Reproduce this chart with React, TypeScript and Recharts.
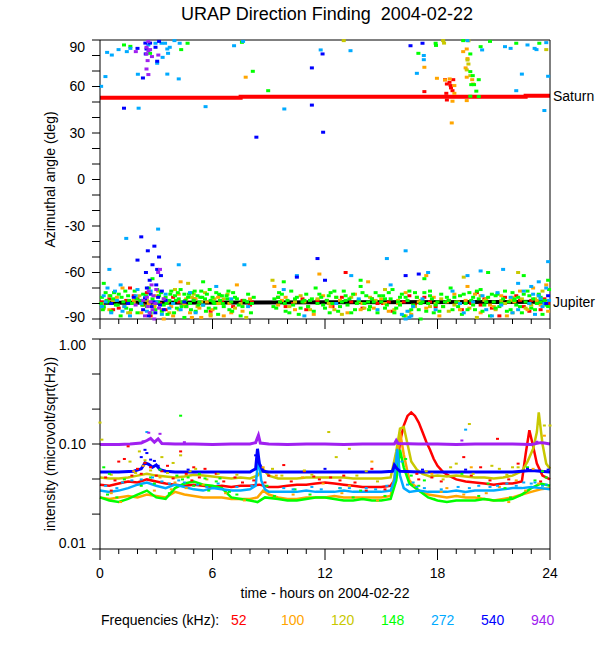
import { ComposedChart, Scatter, Line, XAxis, YAxis, LabelList } from "recharts";

type Pair = [number, number];

const FREQS = ["52", "100", "120", "148", "272", "540", "940"];
const COLORS = ["#ff0000", "#ffa500", "#c8c800", "#00ff00", "#00aaff", "#0000ff", "#a020f0"];

const HOURS = [0, 1, 2, 3, 4, 5, 6, 7, 8, 9, 10, 11, 12, 13, 14, 15, 16, 17, 18, 19, 20, 21, 22, 23, 24];
const AZ_TICKS = [-90, -80, -70, -60, -50, -40, -30, -20, -10, 0, 10, 20, 30, 40, 50, 60, 70, 80, 90];
const INT_TICKS = [0.01, 0.0215, 0.0464, 0.1, 0.215, 0.464, 1];

// Source directions (deg) — Saturn steps, Jupiter nearly flat
const SATURN: Pair[] = [[0, 52.7], [7.5, 53.4], [22.7, 54], [24, 54]];
const JUPITER: Pair[] = [[0, -79.5], [12, -79.2], [24, -78.9]];

// ---- azimuth scatter, [hour, deg] per frequency ----
const AZ_52: Pair[] = [
  [18.4, 64.4], [18.64, 62.7], [18.7, 60.6], [18.5, 61.6], [18.84, 64.4], [18.72, 59.1], [18.8, 57.3], [18.47, 55.6], [18.55, 53.5], [18.5, 51.3], [17.3, 56.7],
  [0.1, -79], [0.5, -77], [1.0, -83], [1.4, -78], [1.8, -75], [2.3, -81], [2.7, -88], [3.2, -80], [3.9, -76], [4.6, -82], [5.3, -80], [5.9, -85],
  [6.5, -79], [7.1, -82], [7.6, -78], [8.1, -79], [9.5, -76], [10.3, -80], [11.0, -84], [11.6, -78], [12.4, -82], [12.9, -76], [13.4, -79], [14.0, -83],
  [14.5, -77], [15.1, -80], [15.6, -85], [16.2, -79], [16.8, -81], [17.3, -76], [17.9, -82], [18.6, -78], [19.3, -84], [19.8, -80], [20.5, -77], [20.9, -83],
  [21.3, -88], [21.8, -79], [22.2, -75], [22.6, -82], [23.0, -78], [23.5, -84], [23.9, -80], [13.1, -60], [6.4, -75], [15.4, -79], [20.1, -73],
  [0.7, -84], [2.0, -77], [4.2, -79], [9.9, -82], [12.1, -78], [16.5, -75], [19.0, -79], [21.6, -76], [22.9, -85], [23.7, -77], [1.6, -70], [2.5, -73],
  [3.5, -84], [5.0, -77], [8.0, -81], [10.8, -77], [14.8, -80], [17.6, -79], [20.3, -81], [22.4, -78], [23.3, -80],
];
const AZ_100: Pair[] = [
  [7.77, 66], [17.3, 72.4], [17.97, 65.3], [18.4, 64.2], [18.65, 64.9], [18.9, 60.6], [18.9, 55.6], [18.76, 36.5], [19.37, 82.5], [19.56, 84.2], [19.56, 66],
  [19.85, 64.4], [19.56, 50.9], [19.9, 61.6], [18.8, 50.5], [19.6, 78], [19.5, 72],
  [0.1, -80], [0.5, -84], [0.9, -76], [1.3, -82], [1.8, -78], [2.2, -86], [2.6, -80], [3.0, -75], [3.3, -84], [3.6, -79], [3.9, -88], [4.2, -74],
  [4.5, -81], [4.8, -86], [5.1, -77], [5.4, -89], [5.7, -79], [6.0, -84], [6.3, -76], [6.6, -88], [6.9, -80], [7.3, -68], [7.6, -85], [8.0, -77],
  [9.3, -69], [9.5, -81], [9.9, -76], [10.4, -84], [10.9, -79], [11.4, -87], [11.9, -75], [12.3, -82], [12.8, -78], [13.2, -86], [13.6, -74], [14.0, -80],
  [14.3, -66], [14.6, -83], [15.0, -77], [15.4, -85], [15.9, -80], [16.3, -73], [16.6, -87], [17.0, -79], [17.4, -83], [17.8, -76], [18.1, -88], [18.5, -79],
  [18.9, -74], [19.2, -84], [19.6, -69], [19.9, -80], [20.3, -86], [20.6, -77], [21.0, -82], [21.4, -75], [21.7, -88], [22.1, -79], [22.4, -72], [22.8, -84],
  [23.1, -70], [23.5, -81], [23.8, -68], [1.2, -70], [4.3, -66], [11.7, -61], [17.4, -62], [3.4, -90], [4.9, -89], [5.9, -88], [2.9, -82], [20.0, -74],
  [0.7, -78], [1.6, -86], [3.8, -82], [4.6, -77], [5.3, -83], [6.2, -80], [7.0, -86], [9.7, -78], [11.1, -82], [12.6, -76], [13.9, -84], [15.2, -80],
  [16.9, -76], [18.3, -82], [19.5, -78], [20.8, -81], [22.0, -76], [23.3, -78], [23.9, -85],
];
const AZ_120: Pair[] = [
  [13, 89.6], [18.3, 89.6], [19.6, 77.1], [19.65, 74.5], [19.56, 70.7], [19.75, 67], [23.8, 83.8], [19.65, 89.5], [18.35, 88],
  [0.2, -83], [0.8, -78], [1.5, -86], [2.1, -75], [2.9, -81], [3.4, -77], [3.7, -86], [4.0, -71], [4.4, -79], [4.9, -76], [5.2, -82], [5.6, -73],
  [5.9, -87], [6.4, -80], [6.8, -74], [7.2, -83], [7.8, -89], [9.2, -65], [10.1, -82], [10.7, -75], [11.2, -84], [12.2, -80], [12.9, -87], [13.4, -76],
  [14.1, -83], [14.7, -78], [15.2, -71], [15.7, -84], [16.0, -80], [16.3, -88], [16.5, -85], [17.1, -78], [17.6, -82], [18.2, -77], [18.6, -85], [19.1, -79],
  [19.7, -83], [20.1, -89], [20.5, -78], [21.1, -84], [21.6, -80], [22.0, -86], [22.5, -77], [23.0, -81], [23.4, -75], [23.8, -79], [4.7, -67], [19.4, -63],
  [22.3, -60], [3.1, -72], [5.0, -74], [6.1, -77], [13.8, -79], [17.9, -80], [21.9, -78], [23.6, -72],
  [0.5, -75], [1.8, -80], [2.5, -78], [4.2, -84], [5.4, -79], [6.6, -77], [7.5, -80], [10.4, -79], [11.6, -77], [12.5, -84], [14.4, -76], [15.9, -78],
  [16.8, -82], [18.9, -81], [20.3, -75], [21.4, -78], [22.7, -83], [23.2, -77],
];
const AZ_148: Pair[] = [
  [1.28, 86.8], [1.62, 85.9], [2.67, 81.4], [4.33, 83.8], [4.67, 87.9], [7.57, 88.5], [8.15, 69.8], [8.97, 57.3], [16.98, 81.4], [17.9, 87.9], [17.92, 86.5],
  [19.37, 89.6], [19.75, 81], [19.75, 69.6], [19.88, 67], [20.07, 57], [19.75, 53.7], [20.2, 53.5], [20.3, 85.7], [20.8, 89.1], [22.2, 87.9], [23.43, 87.9],
  [20.2, 64.4], [19.8, 61.2], [19.95, 61.2],
  [0.1, -76], [0.2, -82], [0.3, -73], [0.45, -79], [0.6, -85], [0.7, -77], [0.85, -81], [1.0, -74], [1.1, -88], [1.25, -79], [1.4, -83], [1.5, -75],
  [1.7, -80], [1.85, -72], [2.0, -86], [2.15, -78], [2.3, -74], [2.5, -82], [2.6, -70], [2.8, -77], [2.95, -84], [3.1, -79], [3.25, -73], [3.4, -81],
  [3.5, -76], [3.6, -87], [3.7, -78], [3.8, -72], [3.9, -80], [4.0, -75], [4.1, -83], [4.2, -77], [4.3, -71], [4.4, -79], [4.5, -74], [4.6, -82],
  [4.7, -76], [4.8, -80], [4.9, -73], [5.0, -78], [5.1, -85], [5.2, -75], [5.3, -79], [5.4, -72], [5.5, -81], [5.6, -77], [5.7, -74], [5.8, -83],
  [5.9, -78], [6.0, -76], [6.1, -80], [6.2, -73], [6.3, -87], [6.4, -78], [6.5, -75], [6.6, -82], [6.8, -77], [6.9, -84], [7.0, -79], [7.2, -76],
  [7.4, -81], [7.5, -88], [7.7, -78], [7.9, -74], [8.1, -80], [9.3, -77], [9.4, -83], [9.6, -79], [9.7, -74], [9.9, -85], [10.0, -78], [10.2, -72],
  [10.3, -81], [10.5, -76], [10.6, -87], [10.8, -79], [11.0, -74], [11.1, -82], [11.3, -77], [11.5, -70], [11.6, -80], [11.8, -76], [12.0, -83], [12.1, -78],
  [12.3, -73], [12.4, -80], [12.6, -76], [12.7, -85], [12.9, -79], [13.0, -72], [13.2, -81], [13.3, -77], [13.5, -74], [13.6, -84], [13.8, -78], [13.9, -69],
  [14.1, -80], [14.2, -75], [14.4, -82], [14.5, -77], [14.7, -73], [14.8, -86], [15.0, -79], [15.1, -75], [15.3, -81], [15.5, -77], [15.6, -71], [15.8, -83],
  [15.9, -79], [16.1, -74], [16.2, -88], [16.4, -78], [16.5, -72], [16.7, -81], [16.9, -76], [17.0, -84], [17.2, -79], [17.3, -73], [17.5, -80], [17.7, -77],
  [17.8, -86], [18.0, -79], [18.2, -74], [18.3, -82], [18.5, -76], [18.7, -70], [18.8, -84], [19.0, -79], [19.2, -75], [19.3, -87], [19.5, -80], [19.7, -73],
  [19.8, -78], [20.0, -84], [20.2, -77], [20.3, -71], [20.5, -81], [20.7, -76], [20.8, -88], [21.0, -79], [21.2, -74], [21.3, -82], [21.5, -77], [21.7, -85],
  [21.8, -79], [22.0, -73], [22.2, -81], [22.3, -76], [22.5, -86], [22.7, -79], [22.8, -72], [23.0, -83], [23.1, -77], [23.3, -80], [23.4, -74], [23.6, -87],
  [23.7, -78], [23.9, -82], [23.95, -71], [0.2, -67], [5.5, -66], [9.8, -66], [13.9, -65], [17.3, -64], [20.7, -60], [22.6, -62], [23.9, -65], [2.8, -64],
  [17.1, -90], [4.5, -89], [0.05, -80], [0.55, -75], [1.55, -78], [3.15, -75], [4.05, -78], [4.75, -74], [5.35, -76], [6.05, -79], [6.75, -75], [7.1, -73],
  [9.5, -76], [10.9, -78], [12.2, -75], [13.1, -78], [14.3, -79], [15.2, -77], [16.0, -76], [17.6, -75], [18.6, -78], [19.9, -76], [21.1, -75], [22.1, -77],
  [22.9, -75], [23.5, -79],
  [0.15, -84], [0.35, -78], [0.75, -73], [0.95, -81], [1.15, -76], [1.35, -72], [1.65, -84], [1.95, -77], [2.25, -81], [2.45, -75], [2.7, -86], [3.05, -71],
  [3.3, -85], [3.55, -80], [3.75, -74], [3.95, -86], [4.15, -73], [4.35, -82], [4.55, -78], [4.85, -84], [5.05, -72], [5.25, -81], [5.45, -76], [5.65, -85],
  [5.85, -71], [6.15, -83], [6.35, -74], [6.55, -80], [6.85, -72], [7.05, -85], [7.3, -77], [7.6, -82], [7.85, -79], [8.05, -86], [8.2, -76], [9.25, -82],
  [9.55, -73], [9.85, -80], [10.1, -86], [10.4, -77], [10.7, -83], [11.2, -78], [11.4, -85], [11.7, -74], [11.9, -81], [12.25, -86], [12.5, -72], [12.8, -82],
  [13.1, -75], [13.4, -86], [13.7, -80], [14.0, -73], [14.35, -84], [14.6, -79], [14.9, -75], [15.2, -83], [15.4, -73], [15.7, -86], [16.0, -81], [16.3, -76],
  [16.6, -84], [16.8, -73], [17.1, -80], [17.4, -85], [17.6, -72], [17.9, -81], [18.1, -85], [18.4, -79], [18.9, -76], [19.1, -82], [19.4, -74], [19.6, -84],
  [19.9, -81], [20.1, -72], [20.4, -85], [20.6, -79], [20.9, -74], [21.1, -83], [21.4, -80], [21.6, -72], [21.9, -84], [22.1, -78], [22.4, -82], [22.6, -74],
  [22.9, -80], [23.2, -84], [23.5, -76], [23.8, -81],
];
const AZ_272: Pair[] = [
  [0.38, 82], [0.63, 80.3], [0.99, 83.8], [1.43, 82.5], [1.62, 84.6], [0.29, 66.4], [2.06, 46], [2.02, 67.9], [2.58, 86.8], [2.96, 87.9], [3.28, 87.9],
  [3.47, 87.9], [3.59, 84.2], [3.72, 85.3], [3.63, 81.4], [3.34, 78.8], [3.05, 75], [3.59, 68], [4.2, 64.9], [3.97, 89.6], [4.25, 87.9], [7.15, 86.3],
  [7.63, 89.1], [5.63, 47], [9.83, 45.5], [11.77, 83.6], [13.36, 83.1], [16.9, 68.5], [17.27, 80], [17.27, 77.3], [20.38, 83.6], [21.6, 85.7], [21.9, 84.6],
  [22.8, 86.8], [23.18, 84.6], [23.28, 83.8], [23.8, 88.3], [23.7, 44.5], [22.2, 57.3], [22.5, 68], [23.9, 66.6], [0.06, 60.1], [19.6, 89.6],
  [0.1, -82], [0.2, -75], [0.4, -70], [0.6, -86], [0.9, -78], [1.1, -68], [1.3, -82], [1.6, -88], [1.9, -75], [2.2, -80], [2.5, -85], [2.7, -72],
  [3.0, -79], [3.3, -87], [3.5, -74], [3.9, -80], [4.3, -84], [4.8, -73], [5.5, -81], [6.2, -69], [7.0, -77], [7.9, -82], [9.8, -71], [10.9, -88],
  [12.6, -80], [13.8, -77], [14.8, -84], [15.5, -68], [16.1, -87], [16.3, -90], [16.5, -89], [16.7, -82], [17.2, -77], [17.9, -84], [18.8, -72], [19.4, -86],
  [19.9, -79], [20.4, -75], [20.9, -88], [21.4, -81], [21.9, -76], [22.3, -84], [22.6, -72], [22.9, -80], [23.2, -87], [23.4, -75], [23.6, -82], [23.8, -70],
  [23.95, -78], [0.5, -58], [1.4, -38], [3.1, -32], [4.2, -55], [7.7, -55], [10.5, -62], [16.3, -46], [17.5, -60], [19.6, -62], [21.5, -58], [23.9, -53],
  [15.3, -51], [13.4, -62], [20.3, -59], [22.3, -67], [23.4, -66], [0.8, -72], [2.4, -76], [23.0, -69], [23.5, -77],
  [0.3, -79], [1.2, -85], [2.0, -71], [3.7, -83], [5.1, -86], [16.4, -85], [16.6, -88], [19.2, -80], [20.6, -84], [21.2, -73], [22.0, -86], [23.1, -74],
  [23.7, -80],
];
const AZ_540: Pair[] = [
  [2.0, 84.6], [2.29, 65.5], [2.42, 88], [2.48, 84.2], [2.67, 88], [2.96, 85.3], [3.15, 89.1], [3.05, 76.3], [2.44, 81], [11.3, 72], [11.87, 81],
  [11.3, 48], [11.9, 30.5], [8.34, 27.3], [16.56, 86.3], [17.2, 87.9], [1.28, 46],
  [1.5, -80], [2.0, -52], [2.2, -37], [2.3, -84], [2.4, -77], [2.45, -60], [2.5, -70], [2.55, -46], [2.6, -88], [2.65, -65], [2.7, -74], [2.75, -82],
  [2.8, -55], [2.85, -79], [2.9, -43], [2.95, -86], [3.0, -68], [3.05, -58], [3.1, -76], [3.15, -50], [3.2, -81], [3.25, -62], [3.3, -72], [3.4, -84],
  [3.5, -78], [1.8, -76], [0.6, -80], [11.6, -51], [10.5, -63], [4.5, -79], [16.3, -62], [23.8, -80], [23.9, -75], [17.0, -61], [12.0, -65],
];
const AZ_940: Pair[] = [
  [2.58, 89.1], [2.58, 83.1], [2.48, 81], [2.54, 76.7], [2.48, 71.3], [2.58, 67.7], [2.77, 79.3], [3.11, 80.3], [1.91, 82.5], [2.67, 83.8], [2.48, 85.3],
  [2.4, -88], [2.5, -76], [2.55, -82], [2.6, -72], [2.65, -86], [2.7, -79], [2.75, -68], [2.8, -84], [2.85, -75], [2.9, -90], [2.95, -80], [3.0, -71],
  [3.1, -60], [3.15, -83], [3.2, -58], [2.3, -78], [1.9, -81], [3.4, -77],
];
const AZ_SERIES = [AZ_52, AZ_100, AZ_120, AZ_148, AZ_272, AZ_540, AZ_940];

// ---- intensity traces (microvolt/sqrt(Hz)), [hour, value] ----
const INT_52: Pair[] = [
  [0, 0.041], [0.5, 0.040], [1, 0.042], [1.5, 0.044], [2, 0.043], [2.5, 0.046], [3, 0.044], [3.5, 0.042], [4, 0.041], [4.5, 0.040], [5, 0.041],
  [5.5, 0.040], [6, 0.039], [6.5, 0.040], [7, 0.039], [7.5, 0.040], [8, 0.040], [8.5, 0.041], [9, 0.039], [9.5, 0.039], [10, 0.040], [10.5, 0.041],
  [11, 0.041], [11.5, 0.042], [12, 0.043], [12.5, 0.042], [13, 0.041], [13.5, 0.040], [14, 0.039], [14.5, 0.039], [15, 0.039], [15.5, 0.040],
  [15.8, 0.048], [16.0, 0.105], [16.2, 0.150], [16.4, 0.185], [16.6, 0.200], [16.8, 0.185], [17.0, 0.160], [17.2, 0.130], [17.4, 0.105], [17.6, 0.088],
  [17.8, 0.072], [18.0, 0.062], [18.3, 0.054], [18.6, 0.050], [19, 0.046], [19.5, 0.044], [20, 0.043], [20.5, 0.042], [21, 0.041], [21.5, 0.042],
  [22, 0.042], [22.5, 0.044], [22.7, 0.080], [22.9, 0.135], [23.1, 0.095], [23.3, 0.065], [23.6, 0.050], [24, 0.046],
];
const INT_100: Pair[] = [
  [0, 0.031], [0.5, 0.030], [1, 0.031], [1.5, 0.032], [2, 0.031], [2.5, 0.033], [3, 0.032], [3.5, 0.031], [4, 0.035], [4.5, 0.033], [5, 0.032],
  [5.5, 0.031], [6, 0.031], [6.5, 0.031], [7, 0.030], [7.5, 0.030], [8, 0.030], [8.4, 0.031], [8.7, 0.036], [9, 0.033], [9.5, 0.031], [10, 0.030],
  [10.5, 0.030], [11, 0.031], [11.5, 0.031], [12, 0.031], [12.5, 0.032], [13, 0.031], [13.5, 0.031], [14, 0.031], [14.5, 0.031], [15, 0.031],
  [15.5, 0.032], [15.8, 0.060], [16.0, 0.130], [16.2, 0.080], [16.5, 0.045], [17, 0.036], [17.5, 0.033], [18, 0.032], [18.5, 0.031], [19, 0.032],
  [19.5, 0.031], [20, 0.031], [20.5, 0.030], [21, 0.029], [21.5, 0.030], [22, 0.031], [22.5, 0.033], [23, 0.035], [23.5, 0.037], [24, 0.038],
];
const INT_120: Pair[] = [
  [0, 0.048], [0.5, 0.047], [1, 0.047], [1.5, 0.048], [2, 0.050], [2.5, 0.052], [3, 0.050], [3.5, 0.049], [4, 0.048], [4.5, 0.049], [5, 0.051],
  [5.5, 0.050], [6, 0.049], [6.5, 0.048], [7, 0.047], [7.5, 0.048], [8, 0.047], [8.4, 0.050], [8.7, 0.058], [9, 0.050], [9.5, 0.047], [10, 0.047],
  [10.5, 0.047], [11, 0.048], [11.5, 0.048], [12, 0.048], [12.5, 0.048], [13, 0.048], [13.5, 0.047], [14, 0.047], [14.5, 0.047], [15, 0.047],
  [15.5, 0.048], [15.8, 0.085], [16.0, 0.140], [16.2, 0.145], [16.4, 0.100], [16.6, 0.068], [16.9, 0.057], [17.2, 0.052], [17.6, 0.049], [18, 0.050],
  [18.5, 0.049], [19, 0.050], [19.5, 0.049], [20, 0.048], [20.5, 0.048], [21, 0.047], [21.5, 0.048], [22, 0.050], [22.5, 0.055], [22.8, 0.068],
  [23.1, 0.090], [23.3, 0.130], [23.4, 0.200], [23.6, 0.100], [23.8, 0.065], [24, 0.058],
];
const INT_148: Pair[] = [
  [0, 0.031], [0.5, 0.029], [1, 0.028], [1.5, 0.030], [2, 0.033], [2.5, 0.036], [3, 0.031], [3.5, 0.030], [4, 0.038], [4.5, 0.042], [5, 0.044],
  [5.5, 0.041], [6, 0.040], [6.5, 0.038], [7, 0.031], [7.5, 0.030], [8, 0.029], [8.4, 0.028], [8.8, 0.031], [9.5, 0.030], [10, 0.029], [10.5, 0.029],
  [11, 0.030], [11.5, 0.031], [12, 0.031], [12.5, 0.030], [13, 0.029], [13.5, 0.029], [14, 0.030], [14.5, 0.029], [15, 0.029], [15.5, 0.030],
  [15.8, 0.045], [16.0, 0.088], [16.2, 0.060], [16.5, 0.042], [17, 0.036], [17.5, 0.031], [18, 0.029], [18.5, 0.028], [19, 0.029], [19.5, 0.029],
  [20, 0.029], [20.5, 0.030], [21, 0.029], [21.5, 0.029], [22, 0.030], [22.5, 0.033], [23, 0.038], [23.5, 0.042], [24, 0.040],
];
const INT_272: Pair[] = [
  [0, 0.036], [0.5, 0.035], [1, 0.036], [1.5, 0.038], [2, 0.041], [2.5, 0.043], [3, 0.040], [3.5, 0.038], [4, 0.041], [4.5, 0.039], [5, 0.037],
  [5.5, 0.036], [6, 0.038], [6.5, 0.037], [7, 0.036], [7.5, 0.036], [8, 0.037], [8.3, 0.040], [8.45, 0.075], [8.6, 0.045], [8.8, 0.037], [9, 0.035],
  [9.5, 0.035], [10, 0.035], [10.5, 0.035], [11, 0.036], [11.5, 0.035], [12, 0.035], [12.5, 0.035], [13, 0.036], [13.5, 0.035], [14, 0.035],
  [14.5, 0.035], [15, 0.035], [15.5, 0.036], [15.7, 0.045], [15.85, 0.090], [16, 0.050], [16.2, 0.038], [16.5, 0.035], [17, 0.036], [17.5, 0.035],
  [18, 0.035], [18.5, 0.035], [19, 0.036], [19.5, 0.035], [20, 0.036], [20.5, 0.036], [21, 0.036], [21.5, 0.037], [22, 0.038], [22.5, 0.038],
  [23, 0.039], [23.5, 0.038], [24, 0.037],
];
const INT_540: Pair[] = [
  [0, 0.054], [1, 0.054], [1.8, 0.055], [2.2, 0.058], [2.4, 0.066], [2.6, 0.064], [2.8, 0.060], [3.0, 0.063], [3.2, 0.057], [3.5, 0.055], [4, 0.054],
  [5, 0.054], [6, 0.054], [7, 0.054], [8.0, 0.054], [8.3, 0.058], [8.4, 0.090], [8.5, 0.065], [8.7, 0.055], [9, 0.054], [10, 0.054], [11, 0.054],
  [12, 0.054], [13, 0.054], [14, 0.054], [15, 0.054], [15.6, 0.055], [15.7, 0.063], [15.85, 0.058], [16, 0.055], [17, 0.054], [18, 0.054],
  [19, 0.054], [20, 0.054], [21, 0.054], [22, 0.054], [22.5, 0.055], [23, 0.056], [23.5, 0.055], [24, 0.054],
];
const INT_940: Pair[] = [
  [0, 0.099], [1, 0.099], [1.6, 0.100], [2.2, 0.102], [2.5, 0.108], [2.7, 0.113], [2.9, 0.104], [3.1, 0.112], [3.3, 0.101], [4, 0.100], [5, 0.100],
  [6, 0.099], [7, 0.100], [8, 0.100], [8.3, 0.103], [8.45, 0.121], [8.55, 0.102], [9, 0.100], [10, 0.099], [11, 0.100], [12, 0.100], [13, 0.099],
  [14, 0.100], [15, 0.100], [15.7, 0.100], [15.8, 0.108], [15.9, 0.101], [17, 0.100], [18, 0.100], [19, 0.099], [20, 0.100], [21, 0.100],
  [22, 0.100], [23, 0.099], [23.5, 0.103], [23.7, 0.102], [24, 0.100],
];
const INT_SERIES = [INT_52, INT_100, INT_120, INT_148, INT_272, INT_540, INT_940];

// scattered samples off the main traces
const DOT_52: Pair[] = [
  [1.0, 0.068], [1.3, 0.072], [1.5, 0.095], [2.0, 0.058], [2.7, 0.060], [3.6, 0.062], [4.3, 0.085], [5.0, 0.060], [5.6, 0.058], [6.2, 0.052],
  [7.2, 0.048], [9.0, 0.050], [9.8, 0.063], [10.9, 0.055], [11.4, 0.049], [13.0, 0.050], [14.5, 0.058], [19.4, 0.075], [20.3, 0.060], [21.2, 0.112],
  [22.3, 0.065], [0.8, 0.045], [8.2, 0.045], [16.9, 0.052], [18.2, 0.044], [17.7, 0.048],
  [0.3, 0.048], [0.6, 0.036], [1.7, 0.050], [2.2, 0.052], [2.4, 0.066], [3.0, 0.050], [3.3, 0.055], [3.9, 0.047], [4.6, 0.052], [4.9, 0.045],
  [5.3, 0.048], [6.6, 0.044], [7.6, 0.043], [8.8, 0.043], [10.2, 0.044], [11.7, 0.046], [12.3, 0.048], [12.8, 0.045], [13.6, 0.043], [14.2, 0.036],
  [15.2, 0.037], [19.8, 0.050], [20.8, 0.045], [21.8, 0.046], [23.5, 0.044], [17.0, 0.046],
];
const DOT_100: Pair[] = [
  [1.8, 0.055], [2.3, 0.062], [3.2, 0.048], [4.0, 0.043], [5.5, 0.041], [9.4, 0.050], [10.8, 0.048], [11.9, 0.042], [13.3, 0.040], [14.5, 0.068],
  [17.7, 0.052], [18.5, 0.038], [19.8, 0.060], [21.3, 0.039], [22.2, 0.045], [23.1, 0.058], [23.7, 0.120], [8.7, 0.060],
  [0.6, 0.034], [1.1, 0.028], [2.9, 0.036], [3.8, 0.037], [4.6, 0.038], [6.7, 0.034], [7.7, 0.029], [10.3, 0.033], [12.9, 0.034], [14.8, 0.029],
  [16.8, 0.040], [18.2, 0.035], [19.4, 0.033], [20.6, 0.034], [21.8, 0.028], [22.7, 0.036], [23.4, 0.042],
];
const DOT_120: Pair[] = [
  [0, 0.160], [0.1, 0.110], [1.6, 0.068], [2.1, 0.085], [2.4, 0.070], [3.3, 0.075], [3.9, 0.066], [4.3, 0.078], [5.1, 0.058], [6.3, 0.052],
  [9.2, 0.058], [12.2, 0.130], [12.6, 0.075], [13.3, 0.090], [14.2, 0.055], [18.7, 0.060], [19.0, 0.065], [19.7, 0.155], [20.9, 0.062], [21.3, 0.058],
  [22.0, 0.060], [23.7, 0.150], [24, 0.150], [10.9, 0.056],
  [0.6, 0.051], [1.9, 0.053], [2.7, 0.056], [3.6, 0.053], [4.8, 0.055], [5.7, 0.046], [7.3, 0.051], [9.7, 0.050], [11.3, 0.051], [13.7, 0.050],
  [14.8, 0.044], [17.4, 0.055], [18.3, 0.046], [19.9, 0.052], [21.7, 0.051], [22.3, 0.060],
];
const DOT_148: Pair[] = [
  [0.2, 0.060], [0.5, 0.052], [2.7, 0.048], [3.2, 0.057], [4.1, 0.050], [4.7, 0.048], [5.3, 0.052], [6.4, 0.047], [8.9, 0.040], [10.4, 0.037],
  [12.8, 0.038], [13.9, 0.036], [16.3, 0.072], [16.6, 0.050], [17.3, 0.045], [19.3, 0.052], [20.7, 0.042], [21.6, 0.038], [22.8, 0.060], [23.6, 0.055],
  [4.3, 0.186], [1.3, 0.046], [5.8, 0.036],
  [0.4, 0.033], [0.9, 0.031], [2.2, 0.040], [2.9, 0.042], [3.7, 0.034], [4.4, 0.046], [5.0, 0.040], [5.6, 0.047], [6.2, 0.044], [6.9, 0.035],
  [7.3, 0.033], [9.3, 0.032], [11.2, 0.033], [13.5, 0.031], [15.2, 0.032], [17.8, 0.030], [20.2, 0.032], [21.9, 0.031], [23.2, 0.045], [23.8, 0.048],
  [17.0, 0.040],
];
const DOT_272: Pair[] = [
  [0.3, 0.040], [1.2, 0.043], [2.2, 0.046], [2.5, 0.130], [2.8, 0.048], [3.3, 0.044], [4.2, 0.045], [5.2, 0.041], [6.3, 0.042], [9.8, 0.038],
  [11.3, 0.039], [12.8, 0.038], [14.2, 0.038], [15.3, 0.040], [16.4, 0.041], [16.7, 0.043], [17.3, 0.038], [19.1, 0.039], [20.2, 0.040], [21.7, 0.042],
  [22.6, 0.043], [23.2, 0.043], [23.8, 0.041], [19.5, 0.137],
  [0.9, 0.038], [1.7, 0.045], [3.7, 0.042], [4.5, 0.043], [5.7, 0.039], [7.3, 0.039], [8.1, 0.040], [10.3, 0.037], [11.8, 0.037], [13.3, 0.038],
  [14.7, 0.037], [16.1, 0.068], [16.9, 0.039], [18.2, 0.037], [19.7, 0.038], [20.8, 0.039], [21.2, 0.040], [22.2, 0.040], [23.0, 0.042], [23.6, 0.040],
];
const DOT_540: Pair[] = [
  [2.2, 0.075], [2.4, 0.088], [2.5, 0.082], [2.7, 0.071], [2.9, 0.069], [3.1, 0.062], [8.3, 0.078], [4.7, 0.057], [12, 0.058], [17.2, 0.057],
  [19.5, 0.057], [22.8, 0.058], [23.9, 0.057],
];
const DOT_940: Pair[] = [[2.6, 0.128], [3.2, 0.125], [2.3, 0.106], [4.5, 0.104], [19.3, 0.108], [23.3, 0.105]];
const DOT_SERIES = [DOT_52, DOT_100, DOT_120, DOT_148, DOT_272, DOT_540, DOT_940];

const FONT = "'Liberation Sans', Arial, Helvetica, sans-serif";
const toPts = (arr: Pair[]) => arr.map(([t, v]) => ({ t, v }));
const frame = { stroke: "#000", strokeWidth: 1 };

const dash = (color: string, w: number, h: number) => (p: any) =>
  <rect x={p.cx - w / 2} y={p.cy - h / 2} width={w} height={h} fill={color} />;

function HourTick({ x, y, payload, dir, long, short, label }: any) {
  const major = payload.value % 6 === 0;
  const len = major ? long : short;
  return (
    <g>
      <line x1={x} x2={x} y1={y} y2={y + dir * len} stroke="#000" />
      {label && major && (
        <text x={x} y={y + 24} dy="0.35em" textAnchor="middle" fontSize={14} fontFamily={FONT} fill="#000">{payload.value}</text>
      )}
    </g>
  );
}

function AzTick({ x, y, payload, side }: any) {
  const v = payload.value;
  const dir = side === "left" ? -1 : 1;
  const shift = v === 90 ? 7 : v === -90 ? -2 : 0;
  return (
    <g>
      <line x1={x} x2={x + dir * 8} y1={y} y2={y} stroke="#000" />
      {side === "left" && v % 30 === 0 && (
        <text x={x - 15} y={y + shift} dy="0.35em" textAnchor="end" fontSize={14} fontFamily={FONT} fill="#000">{v}</text>
      )}
    </g>
  );
}

function IntTick({ x, y, payload, side }: any) {
  const v = payload.value;
  const dir = side === "left" ? -1 : 1;
  const decade = v === 0.01 || v === 0.1 || v === 1;
  const shift = v === 1 ? 6 : v === 0.01 ? -6 : 0;
  return (
    <g>
      <line x1={x} x2={x + dir * 8} y1={y} y2={y} stroke="#000" />
      {side === "left" && decade && (
        <text x={x - 14} y={y + shift} dy="0.35em" textAnchor="end" fontSize={14} fontFamily={FONT} fill="#000">{v.toFixed(2)}</text>
      )}
    </g>
  );
}

const planetLabel = (name: string, n: number) => (p: any) =>
  p.index === n - 1 ? (
    <text x={p.x + 3} y={p.y} dy="0.35em" fontSize={14} fontFamily={FONT} fill="#000">{name}</text>
  ) : null;

const axisTitle = (text: string) => ({
  value: text, angle: -90, position: "center" as const, style: { fontSize: 14, fontFamily: FONT, fill: "#000" },
});

export default function App() {
  return (
    <div style={{ position: "absolute", left: 0, top: 0, width: 600, height: 650, background: "#fff", fontFamily: FONT, color: "#000" }}>
      <div style={{ position: "absolute", top: 5, left: 127, width: 400, textAlign: "center", fontSize: 18, lineHeight: "18px", whiteSpace: "pre" }}>
        URAP Direction Finding  2004-02-22
      </div>

      <div style={{ position: "absolute", top: 0, left: 0 }}>
        <ComposedChart width={600} height={335} margin={{ top: 0, right: 0, bottom: 0, left: 0 }}>
          <XAxis xAxisId="top" orientation="top" type="number" dataKey="t" domain={[0, 24]} ticks={HOURS} interval={0} height={40}
            tickSize={0} tickMargin={0} tickLine={false} axisLine={frame}
            tick={(p: any) => <HourTick {...p} dir={-1} long={7} short={4} />} />
          <XAxis type="number" dataKey="t" domain={[0, 24]} ticks={HOURS} interval={0} height={16}
            tickSize={0} tickMargin={0} tickLine={false} axisLine={frame}
            tick={(p: any) => <HourTick {...p} dir={1} long={10} short={5} />} />
          <YAxis type="number" dataKey="v" domain={[-90, 90]} ticks={AZ_TICKS} interval={0} width={100}
            tickSize={0} tickMargin={0} tickLine={false} axisLine={frame}
            tick={(p: any) => <AzTick {...p} side="left" />} label={axisTitle("Azimuthal angle (deg)")} />
          <YAxis yAxisId="right" orientation="right" type="number" domain={[-90, 90]} ticks={AZ_TICKS} interval={0} width={50}
            tickSize={0} tickMargin={0} tickLine={false} axisLine={frame}
            tick={(p: any) => <AzTick {...p} side="right" />} />
          {AZ_SERIES.map((d, i) => (
            <Scatter key={FREQS[i]} name={FREQS[i]} data={toPts(d)} dataKey="v" fill={COLORS[i]}
              shape={dash(COLORS[i], 4, 3)} isAnimationActive={false} />
          ))}
          <Line data={toPts(SATURN)} dataKey="v" type="stepAfter" stroke="#ff0000" strokeWidth={4} dot={false} isAnimationActive={false}>
            <LabelList dataKey="v" content={planetLabel("Saturn", SATURN.length)} />
          </Line>
          <Line data={toPts(JUPITER)} dataKey="v" type="linear" stroke="#000" strokeWidth={4} dot={false} isAnimationActive={false}>
            <LabelList dataKey="v" content={planetLabel("Jupiter", JUPITER.length)} />
          </Line>
        </ComposedChart>
      </div>

      <div style={{ position: "absolute", top: 320, left: 0 }}>
        <ComposedChart width={600} height={260} margin={{ top: 0, right: 0, bottom: 0, left: 0 }}>
          <XAxis xAxisId="top" orientation="top" type="number" dataKey="t" domain={[0, 24]} height={19}
            tick={false} tickLine={false} axisLine={frame} />
          <XAxis type="number" dataKey="t" domain={[0, 24]} ticks={HOURS} interval={0} height={31}
            tickSize={0} tickMargin={0} tickLine={false} axisLine={frame}
            tick={(p: any) => <HourTick {...p} dir={1} long={11} short={5} label />} />
          <YAxis type="number" dataKey="v" scale="log" domain={[0.01, 1]} ticks={INT_TICKS} interval={0} width={100}
            tickSize={0} tickMargin={0} tickLine={false} axisLine={frame}
            tick={(p: any) => <IntTick {...p} side="left" />} label={axisTitle("intensity (microvolt/sqrt(Hz))")} />
          <YAxis yAxisId="right" orientation="right" type="number" scale="log" domain={[0.01, 1]} ticks={INT_TICKS} interval={0} width={50}
            tickSize={0} tickMargin={0} tickLine={false} axisLine={frame}
            tick={(p: any) => <IntTick {...p} side="right" />} />
          {INT_SERIES.map((d, i) => (
            <Line key={"l" + FREQS[i]} data={toPts(d)} dataKey="v" type="linear" stroke={COLORS[i]}
              strokeWidth={i >= 5 ? 3 : 2.5} dot={false} isAnimationActive={false} />
          ))}
          {DOT_SERIES.map((d, i) => (
            <Scatter key={"s" + FREQS[i]} data={toPts(d)} dataKey="v" fill={COLORS[i]}
              shape={dash(COLORS[i], 3, 2)} isAnimationActive={false} />
          ))}
        </ComposedChart>
      </div>

      <div style={{ position: "absolute", top: 586, left: 125, width: 400, textAlign: "center", fontSize: 14, lineHeight: "14px" }}>
        time - hours on 2004-02-22
      </div>
      <div style={{ position: "absolute", top: 613, left: 101, fontSize: 14, lineHeight: "14px" }}>Frequencies (kHz):</div>
      {FREQS.map((f, i) => (
        <div key={f} style={{ position: "absolute", top: 613, left: 231 + i * 50, fontSize: 14, lineHeight: "14px", color: COLORS[i] }}>{f}</div>
      ))}
    </div>
  );
}
